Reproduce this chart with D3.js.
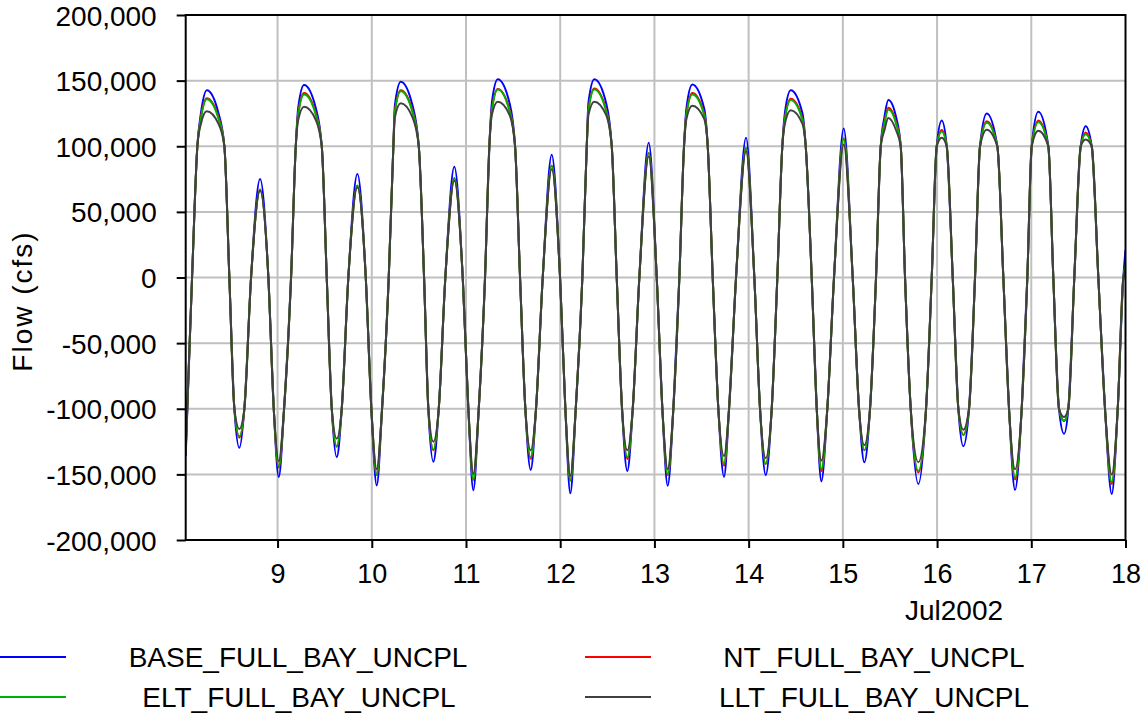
<!DOCTYPE html>
<html>
<head>
<meta charset="utf-8">
<script src="https://cdn.jsdelivr.net/npm/d3@7"></script>
<style>
  html, body { margin: 0; padding: 0; background: #fff; }
  svg { display: block; }
  text { font-family: "Liberation Sans", Arial, sans-serif; fill: #000; }
</style>
</head>
<body>
<svg id="chart" width="1148" height="715"></svg>
<script>
// ---- DATA ----
// hours since 2002-07-08 00:00
const hours = [
  0.6, 2.22, 3.57, 4.47, 5.97, 8.97, 10.45, 11.72, 13.00, 14.27, 15.54, 17.25,
  19.54, 21.66, 23.03, 24.31, 25.66, 27.44, 28.64, 29.25, 30.75, 33.75, 35.26, 36.53,
  37.81, 39.08, 40.35, 42.03, 44.33, 46.47, 47.89, 49.27, 50.62, 52.32,
  53.50, 53.88, 55.38, 58.38, 59.97, 61.32, 62.41, 63.69, 65.06, 66.74, 69.03, 71.17,
  72.60, 73.87, 75.25, 76.85, 77.95, 78.59, 80.09, 83.09, 84.50, 85.77, 87.12, 88.49,
  89.84, 91.55, 93.84, 95.96, 97.31, 98.58, 99.96, 101.64, 102.76, 103.19, 104.69, 107.69,
  109.13, 110.40, 111.75, 113.10, 114.48, 116.16, 118.55, 120.59, 122.02, 123.39,
  124.82, 126.35, 127.54, 128.16, 129.66, 132.66, 133.58, 134.85, 136.28, 137.73, 139.01, 140.79,
  143.34, 145.45, 146.90, 148.35, 149.88, 151.31, 152.58, 153.22, 154.72, 157.72, 158.54, 160.07,
  161.35, 162.52, 164.04, 165.75, 168.22, 170.51, 172.12, 173.47, 174.92, 176.45,
  177.65, 178.58, 179.58, 181.58, 182.74, 183.84, 185.29, 187.23, 189.19, 190.64, 191.91, 193.19,
  194.46, 195.99, 197.42, 198.69, 200.14, 201.67, 202.94, 204.65, 207.35, 208.88,
  210.33, 211.86, 213.56, 214.99, 216.11, 217.79, 220.34, 221.61, 223.06, 224.34,
  225.43, 226.96, 228.59, 229.86, 231.39, 233.08, 234.78, 236.49, 238.02, 239.45,
  240.0
];

const baseFlow = [
  -136000, 0, 100000, 125000, 142700, 125000, 100000, 0, -100000, -129800, -100000, 0,
  75100, 0, -100000, -152000, -100000, 0, 100000, 129000, 146600, 129000, 100000, 0,
  -100000, -136900, -100000, 0, 78800, 0, -100000, -158400, -100000, 0,
  100000, 131000, 149200, 131000, 100000, 0, -100000, -140300, -100000, 0, 84300, 0,
  -100000, -162000, -100000, 0, 100000, 133000, 151000, 133000, 100000, 0, -100000, -146600,
  -100000, 0, 93500, 0, -100000, -164400, -100000, 0, 100000, 133000, 151000, 133000,
  100000, 0, -100000, -147400, -100000, 0, 102600, 0, -100000, -158600,
  -100000, 0, 100000, 129000, 147100, 129000, 100000, 0, -100000, -151800, -100000, 0,
  106500, 0, -100000, -150500, -100000, 0, 100000, 125000, 142700, 125000, 100000, 0,
  -100000, -155200, -100000, 0, 113600, 0, -100000, -140800, -100000, 0,
  100000, 122000, 135300, 122000, 100000, 0, -100000, -157300, -100000, 0, 100000, 119600,
  100000, 0, -100000, -128500, -100000, 0, 100000, 124900, 100000, 0,
  -100000, -161800, -100000, 0, 100000, 126200, 100000, 0, -100000, -119100,
  -100000, 0, 100000, 115200, 100000, 0, -100000, -164900, -100000, 0,
  21000
];

const ntFlow = [
  -133000, 0, 100000, 122000, 136600, 122000, 100000, 0, -100000, -122000, -100000, 0,
  67000, 0, -100000, -144800, -100000, 0, 100000, 125000, 140600, 125000, 100000, 0,
  -100000, -129000, -100000, 0, 70000, 0, -100000, -150500, -100000, 0,
  100000, 127000, 142700, 127000, 100000, 0, -100000, -131700, -100000, 0, 75700, 0,
  -100000, -154000, -100000, 0, 100000, 128000, 143700, 128000, 100000, 0, -100000, -138200,
  -100000, 0, 85100, 0, -100000, -154700, -100000, 0, 100000, 128000, 144000, 128000,
  100000, 0, -100000, -138200, -100000, 0, 94800, 0, -100000, -150500,
  -100000, 0, 100000, 125000, 140600, 125000, 100000, 0, -100000, -143500, -100000, 0,
  98700, 0, -100000, -142100, -100000, 0, 100000, 121000, 136100, 121000, 100000, 0,
  -100000, -147400, -100000, 0, 106000, 0, -100000, -131700, -100000, 0,
  100000, 118000, 129300, 118000, 100000, 0, -100000, -148700, -100000, 0, 100000, 112300,
  100000, 0, -100000, -120000, -100000, 0, 100000, 119100, 100000, 0,
  -100000, -153900, -100000, 0, 100000, 119600, 100000, 0, -100000, -109400,
  -100000, 0, 100000, 110500, 100000, 0, -100000, -157300, -100000, 0,
  6000
];

const eltFlow = [
  -132000, 0, 100000, 121000, 135900, 121000, 100000, 0, -100000, -121000, -100000, 0,
  66800, 0, -100000, -144000, -100000, 0, 100000, 124000, 139500, 124000, 100000, 0,
  -100000, -128500, -100000, 0, 69900, 0, -100000, -150000, -100000, 0,
  100000, 126000, 141900, 126000, 100000, 0, -100000, -131200, -100000, 0, 75700, 0,
  -100000, -153900, -100000, 0, 100000, 127000, 143200, 127000, 100000, 0, -100000, -136900,
  -100000, 0, 85100, 0, -100000, -154700, -100000, 0, 100000, 127000, 143200, 127000,
  100000, 0, -100000, -136900, -100000, 0, 94800, 0, -100000, -150000,
  -100000, 0, 100000, 124000, 139500, 124000, 100000, 0, -100000, -142100, -100000, 0,
  98700, 0, -100000, -142100, -100000, 0, 100000, 120000, 135300, 120000, 100000, 0,
  -100000, -146100, -100000, 0, 106000, 0, -100000, -131700, -100000, 0,
  100000, 117000, 128000, 117000, 100000, 0, -100000, -147400, -100000, 0, 100000, 111300,
  100000, 0, -100000, -119900, -100000, 0, 100000, 118000, 100000, 0,
  -100000, -152600, -100000, 0, 100000, 118300, 100000, 0, -100000, -109400,
  -100000, 0, 100000, 109200, 100000, 0, -100000, -156000, -100000, 0,
  9000
];

const lltFlow = [
  -130000, 0, 100000, 117000, 126700, 117000, 100000, 0, -100000, -115400, -100000, 0,
  66000, 0, -100000, -140000, -100000, 0, 100000, 120000, 130100, 120000, 100000, 0,
  -100000, -122800, -100000, 0, 68600, 0, -100000, -146000, -100000, 0,
  100000, 122000, 132700, 122000, 100000, 0, -100000, -125100, -100000, 0, 73800, 0,
  -100000, -149500, -100000, 0, 100000, 124000, 134000, 124000, 100000, 0, -100000, -131700,
  -100000, 0, 82500, 0, -100000, -151300, -100000, 0, 100000, 124000, 134000, 124000,
  100000, 0, -100000, -131700, -100000, 0, 92100, 0, -100000, -146000,
  -100000, 0, 100000, 121000, 130900, 121000, 100000, 0, -100000, -136100, -100000, 0,
  96100, 0, -100000, -137700, -100000, 0, 100000, 117000, 127500, 117000, 100000, 0,
  -100000, -139500, -100000, 0, 101300, 0, -100000, -127700, -100000, 0,
  100000, 112000, 121500, 112000, 100000, 0, -100000, -140800, -100000, 0, 100000, 106500,
  100000, 0, -100000, -116000, -100000, 0, 100000, 112600, 100000, 0,
  -100000, -146100, -100000, 0, 100000, 111800, 100000, 0, -100000, -106300,
  -100000, 0, 100000, 105200, 100000, 0, -100000, -150000, -100000, 0,
  6000
];

const seriesNames  = ["BASE_FULL_BAY_UNCPL", "NT_FULL_BAY_UNCPL", "ELT_FULL_BAY_UNCPL", "LLT_FULL_BAY_UNCPL"];
const seriesColors = ["#0000ff", "#ff0000", "#00b000", "#404040"];
const seriesValues = [baseFlow, ntFlow, eltFlow, lltFlow];

const xTickDays  = [9, 10, 11, 12, 13, 14, 15, 16, 17, 18];
const yTicks     = [-200000, -150000, -100000, -50000, 0, 50000, 100000, 150000, 200000];
const xDomainHours = [0.6, 240];
const yDomain    = [-200000, 200000];
const yTitle     = "Flow (cfs)";
const xSubLabel  = "Jul2002";

// ---- CHART ----
const svg = d3.select("#chart");
const pL = 185.7, pR = 1125.5, pT = 15, pB = 540;
const t0 = Date.UTC(2002, 6, 8);
const toDate = h => new Date(t0 + h * 3600e3);

const x = d3.scaleUtc().domain(xDomainHours.map(toDate)).range([pL, pR]);
const y = d3.scaleLinear().domain(yDomain).range([pB, pT]);

const xTickDates = xTickDays.map(d => new Date(Date.UTC(2002, 6, d)));

// grid
const grid = svg.append("g");
grid.selectAll("line.v").data(xTickDates.filter(d => x(d) < pR - 2)).join("line")
  .attr("x1", d => x(d)).attr("x2", d => x(d)).attr("y1", pT).attr("y2", pB)
  .attr("stroke", "#c0c0c0").attr("stroke-width", 2);
grid.selectAll("line.h").data(yTicks.filter(v => v > yDomain[0] && v < yDomain[1])).join("line")
  .attr("x1", pL).attr("x2", pR).attr("y1", d => y(d)).attr("y2", d => y(d))
  .attr("stroke", "#c0c0c0").attr("stroke-width", 2);

// lines
svg.append("clipPath").attr("id", "clip").append("rect")
  .attr("x", pL).attr("y", pT).attr("width", pR - pL).attr("height", pB - pT);
const line = d3.line().x((d, i) => x(toDate(hours[i]))).y(d => y(d)).curve(d3.curveMonotoneX);
const lg = svg.append("g").attr("clip-path", "url(#clip)");
seriesValues.forEach((vals, k) => {
  lg.append("path").datum(vals).attr("d", line)
    .attr("fill", "none").attr("stroke", seriesColors[k]).attr("stroke-width", 2)
    .attr("stroke-linejoin", "round");
});

// frame
svg.append("rect").attr("x", pL).attr("y", pT).attr("width", pR - pL).attr("height", pB - pT)
  .attr("fill", "none").attr("stroke", "#000").attr("stroke-width", 2);

// axes
const fmt = d3.format(",");
const yAxis = d3.axisLeft(y).tickValues(yTicks).tickFormat(v => fmt(v).replace("\u2212", "-")).tickSize(9).tickPadding(20);
const gy = svg.append("g").attr("transform", `translate(${pL},0)`).call(yAxis);
gy.select(".domain").remove();
gy.selectAll(".tick line").attr("stroke", "#000").attr("stroke-width", 2);
gy.selectAll(".tick text").attr("font-size", 28).attr("dy", "0.36em")
  .attr("font-family", "Liberation Sans, Arial, sans-serif").attr("fill", "#000");

const xAxis = d3.axisBottom(x).tickValues(xTickDates).tickFormat(d3.utcFormat("%-d")).tickSize(8).tickPadding(16);
const gx = svg.append("g").attr("transform", `translate(0,${pB})`).call(xAxis);
gx.select(".domain").remove();
gx.selectAll(".tick line").attr("stroke", "#000").attr("stroke-width", 2);
gx.selectAll(".tick text").attr("font-size", 27).attr("font-family", "Liberation Sans, Arial, sans-serif").attr("fill", "#000");

svg.append("text").text(xSubLabel).attr("x", 954).attr("y", 620)
  .attr("text-anchor", "middle").attr("font-size", 28);

svg.append("text").text(yTitle)
  .attr("transform", "translate(32,301) rotate(-90)")
  .attr("text-anchor", "middle").attr("font-size", 28).attr("letter-spacing", 2);

// legend
const legendPos = [
  {lx: 0, ly: 657, tx: 298}, {lx: 585, ly: 657, tx: 874},
  {lx: 0, ly: 697, tx: 299}, {lx: 585, ly: 697, tx: 874}
];
[0, 1, 2, 3].forEach((k, i) => {
  const p = legendPos[i];
  svg.append("line").attr("x1", p.lx).attr("x2", p.lx + 66).attr("y1", p.ly).attr("y2", p.ly)
    .attr("stroke", seriesColors[k]).attr("stroke-width", 2);
  svg.append("text").text(seriesNames[k]).attr("x", p.tx).attr("y", p.ly + 10)
    .attr("text-anchor", "middle").attr("font-size", 28);
});
</script>
</body>
</html>
